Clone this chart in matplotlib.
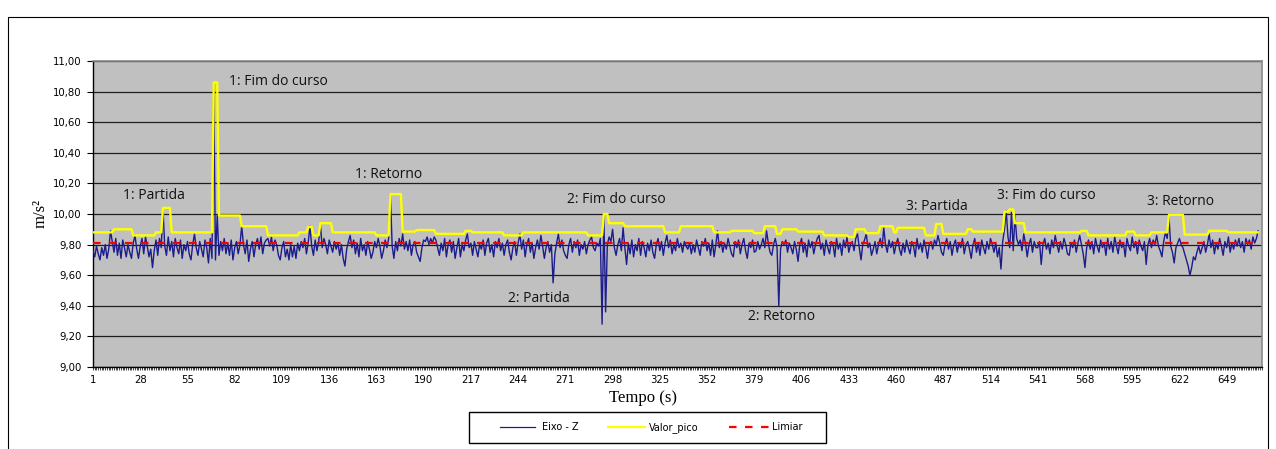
import numpy as np
import matplotlib
matplotlib.use("Agg")
import matplotlib.pyplot as plt
from matplotlib.ticker import MultipleLocator, FixedLocator
from matplotlib.patches import Rectangle
from matplotlib.lines import Line2D

# ---------------- data ----------------
eixo_z = [
    9.76, 9.72, 9.79, 9.74, 9.70, 9.78, 9.73, 9.80, 9.71, 9.77, 9.89, 9.82, 9.75, 9.84, 9.73, 9.81, 9.71, 9.83, 9.78, 9.72,
    9.80, 9.75, 9.71, 9.81, 9.86, 9.77, 9.71, 9.79, 9.84, 9.74, 9.85, 9.79, 9.72, 9.77, 9.65, 9.76, 9.83, 9.73, 9.84, 9.78,
    10.04, 9.79, 9.73, 9.85, 9.76, 9.82, 9.72, 9.84, 9.78, 9.74, 9.83, 9.71, 9.80, 9.76, 9.82, 9.74, 9.70, 9.80, 9.87, 9.78,
    9.73, 9.82, 9.77, 9.72, 9.83, 9.78, 9.68, 9.84, 9.71, 10.86, 9.70, 9.99, 9.73, 9.82, 9.76, 9.84, 9.74, 9.81, 9.73, 9.83,
    9.70, 9.78, 9.82, 9.74, 9.80, 9.92, 9.80, 9.74, 9.83, 9.69, 9.77, 9.82, 9.72, 9.80, 9.84, 9.77, 9.85, 9.74, 9.81, 9.83,
    9.84, 9.79, 9.85, 9.76, 9.83, 9.80, 9.73, 9.70, 9.78, 9.82, 9.72, 9.77, 9.70, 9.80, 9.72, 9.79, 9.71, 9.81, 9.76, 9.82,
    9.78, 9.84, 9.74, 9.81, 9.92, 9.79, 9.73, 9.83, 9.76, 9.82, 9.93, 9.78, 9.84, 9.80, 9.74, 9.83, 9.79, 9.75, 9.82, 9.77,
    9.81, 9.73, 9.80, 9.71, 9.66, 9.77, 9.82, 9.86, 9.78, 9.83, 9.74, 9.81, 9.72, 9.84, 9.76, 9.80, 9.73, 9.82, 9.77, 9.71,
    9.75, 9.82, 9.78, 9.84, 9.79, 9.71, 9.76, 9.83, 9.78, 9.84, 10.13, 9.79, 9.71, 9.82, 9.76, 9.84, 9.79, 9.87, 9.77, 9.82,
    9.76, 9.83, 9.73, 9.80, 9.82, 9.75, 9.72, 9.69, 9.78, 9.83, 9.82, 9.85, 9.80, 9.84, 9.81, 9.85, 9.83, 9.78, 9.73, 9.81,
    9.76, 9.84, 9.72, 9.80, 9.83, 9.75, 9.82, 9.71, 9.78, 9.84, 9.72, 9.80, 9.76, 9.83, 9.87, 9.78, 9.81, 9.73, 9.82, 9.77,
    9.72, 9.80, 9.77, 9.83, 9.73, 9.81, 9.84, 9.75, 9.80, 9.72, 9.82, 9.78, 9.84, 9.76, 9.81, 9.73, 9.80, 9.83, 9.75, 9.70,
    9.78, 9.82, 9.73, 9.81, 9.87, 9.77, 9.83, 9.72, 9.80, 9.84, 9.75, 9.81, 9.71, 9.78, 9.83, 9.77, 9.86, 9.79, 9.71, 9.78,
    9.82, 9.75, 9.80, 9.55, 9.74, 9.81, 9.87, 9.78, 9.83, 9.76, 9.73, 9.71, 9.80, 9.84, 9.75, 9.82, 9.78, 9.83, 9.73, 9.80,
    9.77, 9.82, 9.74, 9.80, 9.83, 9.85, 9.78, 9.76, 9.81, 9.79, 9.84, 9.28, 10.00, 9.36, 9.80, 9.85, 9.82, 9.90, 9.78, 9.73,
    9.80, 9.84, 9.76, 9.91, 9.78, 9.67, 9.81, 9.74, 9.83, 9.72, 9.80, 9.76, 9.84, 9.73, 9.82, 9.78, 9.72, 9.81, 9.76, 9.83,
    9.75, 9.71, 9.80, 9.84, 9.76, 9.82, 9.73, 9.81, 9.86, 9.78, 9.83, 9.74, 9.80, 9.76, 9.84, 9.78, 9.81, 9.75, 9.82, 9.79,
    9.77, 9.81, 9.74, 9.80, 9.75, 9.83, 9.78, 9.73, 9.82, 9.79, 9.84, 9.76, 9.81, 9.73, 9.83, 9.72, 9.80, 9.89, 9.78, 9.82,
    9.75, 9.81, 9.77, 9.84, 9.79, 9.74, 9.72, 9.82, 9.78, 9.83, 9.74, 9.80, 9.84, 9.76, 9.71, 9.81, 9.78, 9.83, 9.75, 9.76,
    9.82, 9.77, 9.80, 9.84, 9.78, 9.89, 9.81, 9.75, 9.73, 9.80, 9.84, 9.78, 9.40, 9.77, 9.82, 9.80, 9.83, 9.75, 9.81, 9.78,
    9.74, 9.82, 9.77, 9.69, 9.80, 9.84, 9.75, 9.81, 9.72, 9.83, 9.78, 9.82, 9.74, 9.80, 9.84, 9.86, 9.77, 9.81, 9.73, 9.83,
    9.78, 9.74, 9.82, 9.80, 9.72, 9.84, 9.77, 9.81, 9.73, 9.83, 9.78, 9.85, 9.75, 9.80, 9.82, 9.76, 9.84, 9.87, 9.78, 9.70,
    9.80, 9.83, 9.87, 9.78, 9.81, 9.73, 9.77, 9.82, 9.74, 9.80, 9.84, 9.78, 9.91, 9.80, 9.75, 9.83, 9.78, 9.82, 9.74, 9.80,
    9.84, 9.77, 9.73, 9.81, 9.75, 9.83, 9.78, 9.74, 9.82, 9.79, 9.72, 9.84, 9.77, 9.81, 9.75, 9.83, 9.78, 9.71, 9.80, 9.82,
    9.77, 9.83, 9.80, 9.86, 9.81, 9.75, 9.73, 9.80, 9.84, 9.77, 9.82, 9.73, 9.80, 9.83, 9.75, 9.81, 9.78, 9.84, 9.74, 9.80,
    9.82, 9.77, 9.71, 9.80, 9.84, 9.75, 9.81, 9.73, 9.83, 9.78, 9.74, 9.82, 9.77, 9.84, 9.80, 9.75, 9.81, 9.72, 9.78, 9.64,
    9.82, 9.90, 10.02, 9.85, 9.78, 10.01, 9.76, 9.99, 9.84, 9.80, 9.83, 9.76, 9.87, 9.81, 9.72, 9.80, 9.84, 9.75, 9.82, 9.78,
    9.78, 9.82, 9.67, 9.80, 9.84, 9.77, 9.81, 9.74, 9.83, 9.78, 9.86, 9.80, 9.75, 9.82, 9.77, 9.84, 9.80, 9.74, 9.73, 9.81,
    9.78, 9.83, 9.75, 9.81, 9.86, 9.80, 9.74, 9.65, 9.78, 9.83, 9.77, 9.82, 9.74, 9.84, 9.79, 9.75, 9.83, 9.78, 9.81, 9.73,
    9.84, 9.77, 9.82, 9.75, 9.85, 9.79, 9.74, 9.83, 9.78, 9.81, 9.72, 9.84, 9.79, 9.76, 9.85, 9.78, 9.82, 9.74, 9.83, 9.79,
    9.76, 9.82, 9.67, 9.80, 9.84, 9.78, 9.83, 9.80, 9.86, 9.79, 9.76, 9.72, 9.82, 9.88, 9.84, 9.99, 9.79, 9.75, 9.68, 9.78,
    9.81, 9.84, 9.80, 9.78, 9.74, 9.70, 9.66, 9.60, 9.65, 9.72, 9.70, 9.75, 9.79, 9.74, 9.78, 9.82, 9.75, 9.80, 9.87, 9.78,
    9.83, 9.74, 9.81, 9.77, 9.84, 9.79, 9.73, 9.82, 9.78, 9.85, 9.75, 9.81, 9.77, 9.83, 9.79, 9.84, 9.78, 9.82, 9.75, 9.84,
    9.80, 9.83, 9.77, 9.85, 9.81, 9.84, 9.89,
]

# Valor_pico: level held from each start second until the next start
pico_start = [1, 13, 24, 37, 41, 46, 70, 73, 86, 101,
              119, 124, 127, 131, 138, 163, 171, 178, 186, 197,
              214, 218, 236, 247, 284, 293, 296, 305, 328, 337,
              356, 366, 379, 385, 392, 395, 404, 419, 433, 437,
              443, 451, 459, 461, 477, 483, 487, 501, 504, 522,
              525, 528, 534, 566, 570, 592, 597, 606, 616, 625,
              639, 650]
pico_level = [9.88, 9.90, 9.86, 9.88, 10.04, 9.88, 10.86, 9.99, 9.92, 9.86,
              9.88, 9.915, 9.86, 9.94, 9.88, 9.86, 10.13, 9.885, 9.895, 9.87,
              9.89, 9.88, 9.86, 9.88, 9.86, 10.00, 9.94, 9.92, 9.88, 9.92,
              9.88, 9.89, 9.875, 9.92, 9.87, 9.90, 9.885, 9.86, 9.85, 9.90,
              9.875, 9.92, 9.88, 9.91, 9.86, 9.935, 9.87, 9.90, 9.885, 10.015,
              10.03, 9.94, 9.88, 9.89, 9.86, 9.885, 9.86, 9.88, 9.995, 9.865,
              9.89, 9.88]

limiar = 9.81

x_tick_labels = [1, 28, 55, 82, 109, 136, 163, 190, 217, 244, 271, 298, 325,
                 352, 379, 406, 433, 460, 487, 514, 541, 568, 595, 622, 649]
y_ticks = [9.0, 9.2, 9.4, 9.6, 9.8, 10.0, 10.2, 10.4, 10.6, 10.8, 11.0]

annotations = [
    ("1: Partida", 35.9, 10.118),
    ("1: Fim do curso", 106.8, 10.865),
    ("1: Retorno", 170.0, 10.26),
    ("2: Partida", 256.0, 9.446),
    ("2: Fim do curso", 300.2, 10.096),
    ("2: Retorno", 394.8, 9.329),
    ("3: Partida", 483.6, 10.048),
    ("3: Fim do curso", 546.1, 10.118),
    ("3: Retorno", 622.9, 10.08),
]

series_names = ["Eixo - Z", "Valor_pico", "Limiar"]

# ---------------- build series ----------------
n = len(eixo_z)
t = np.arange(1, n + 1)
bounds = pico_start[1:] + [n + 1]
durations = np.array(bounds) - np.array(pico_start)
valor_pico = np.repeat(pico_level, durations)
limiar_line = np.full(n, limiar)

# ---------------- figure ----------------
W, H = 1276, 449
fig = plt.figure(figsize=(W / 100, H / 100), dpi=100)

def fx(px):
    return px / W

def fy(py):
    return 1 - py / H

# outer chart border
fig.add_artist(Rectangle((fx(8), fy(452)), fx(1268) - fx(8), fy(17) - fy(452),
                         transform=fig.transFigure, fill=False,
                         edgecolor="#000000", linewidth=0.8))

ax = fig.add_axes([fx(93), fy(367), fx(1262) - fx(93), fy(61) - fy(367)])
ax.set_facecolor("#C0C0C0")

c_blue = "#1c1c8c"
c_yellow = "#FFFF00"
c_red = "#FF0000"

ax.plot(t, eixo_z, color=c_blue, lw=1.0, zorder=3)
ax.plot(t, valor_pico, color=c_yellow, lw=1.7, zorder=4)
ax.plot(t, limiar_line, color=c_red, lw=1.6, ls=(0, (3.4, 3.8)), zorder=5)

ax.set_xlim(1, 669.2)
ax.set_ylim(9.0, 11.0)

ax.set_yticks(y_ticks)
ax.set_yticklabels([f"{v:.2f}".replace(".", ",") for v in y_ticks],
                   fontsize=7.3, family="DejaVu Sans")
ax.xaxis.set_major_locator(FixedLocator(x_tick_labels))
ax.set_xticklabels([str(v) for v in x_tick_labels], fontsize=7.3, family="DejaVu Sans")
ax.xaxis.set_minor_locator(MultipleLocator(1))

ax.tick_params(axis="y", which="major", direction="out", length=4.5, width=0.8,
               pad=3.5, colors="black")
ax.tick_params(axis="x", which="both", direction="out", length=2.5, width=0.5,
               pad=3, colors="black")

ax.yaxis.grid(True, color="#1e1e1e", lw=0.9, zorder=1)
ax.set_axisbelow(True)

for s in ("left", "bottom"):
    ax.spines[s].set_color("black")
    ax.spines[s].set_linewidth(1.0)
for s in ("top", "right"):
    ax.spines[s].set_color("#8a8a8a")
    ax.spines[s].set_linewidth(1.2)

for label, xv, yv in annotations:
    ax.text(xv, yv, label, ha="center", va="center", fontsize=10,
            family="Open Sans", color="#111111", zorder=6)

# axis titles
fig.text(fx(41), fy(213), "m/s²", rotation=90, ha="center", va="center",
         fontsize=12, family="Liberation Serif")
fig.text(fx(643), fy(398), "Tempo (s)", ha="center", va="center",
         fontsize=12, family="Liberation Serif")

# legend box
fig.add_artist(Rectangle((fx(469.3), fy(442.7)), fx(825.7) - fx(469.3), fy(412.3) - fy(442.7),
                         transform=fig.transFigure, facecolor="white",
                         edgecolor="black", linewidth=1.0))
ly = fy(427.4)
legend_items = [
    (series_names[0], 500, 535, 541.7, dict(color=c_blue, lw=0.9)),
    (series_names[1], 607.7, 645, 649.3, dict(color=c_yellow, lw=1.6)),
    (series_names[2], 729.3, 769.3, 771.7, dict(color=c_red, lw=1.6, ls=(0, (3.4, 3.8)))),
]
for name, x0, x1, xt, style in legend_items:
    fig.add_artist(Line2D([fx(x0), fx(x1)], [ly, ly], transform=fig.transFigure, **style))
    fig.text(fx(xt), ly, name, ha="left", va="center", fontsize=7, family="DejaVu Sans")

fig.savefig("out.png", dpi=100, facecolor="white")
